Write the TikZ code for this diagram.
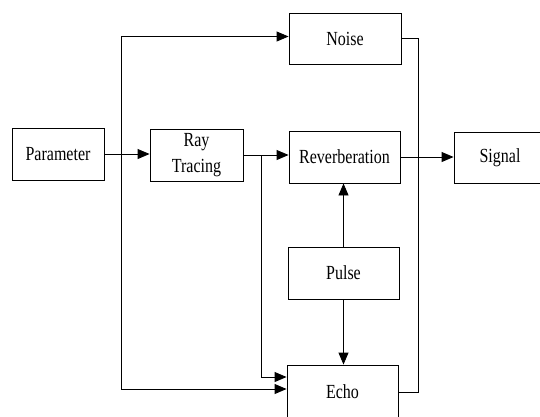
\documentclass[tikz,border=0pt]{standalone}
\usepackage{fontspec}
\setmainfont{Liberation Serif}
\newfontfamily\tnrfont{Liberation Serif}
\usepackage{graphicx}
\usetikzlibrary{arrows.meta}
\newcommand\tx[1]{\scalebox{1}[1.25]{#1}}
\tikzset{
  blk/.style={draw, line width=0.9pt, inner sep=0pt, align=center,
    font=\tnrfont\fontsize{16}{26}\selectfont},
  arr/.style={line width=0.9pt, -{Triangle[length=12pt,width=10pt]}},
  ln/.style={line width=0.9pt}
}
\begin{document}
\begin{tikzpicture}[x=1pt,y=-1pt]
\useasboundingbox (0,0) rectangle (540,416);
\node[blk, minimum width=92pt, minimum height=52pt] (par) at (58,154) {\tx{Parameter}};
\node[blk, minimum width=93pt, minimum height=52pt] (ray) at (196.5,155) {\tx{Ray}\\\tx{Tracing}};
\node[blk, minimum width=111pt, minimum height=52pt] (rev) at (344.5,157) {\tx{Reverberation}};
\node[blk, minimum width=92pt, minimum height=51pt] (sig) at (500,157.5) {\tx{Signal}};
\node[blk, minimum width=112pt, minimum height=51pt] (noi) at (345,38.5) {\tx{Noise}};
\node[blk, minimum width=111pt, minimum height=52pt] (pul) at (343.5,273) {\tx{Pulse}};
\node[blk, minimum width=111pt, minimum height=54pt] (ech) at (342.5,392) {\tx{Echo}};
\coordinate (b1) at (121,154);
\coordinate (b2) at (261,155);
\draw[arr] (par.east) -- (par.east -| ray.west);
\draw[arr] (b1) |- ([yshift=2pt]noi.west);
\draw[arr] (b1) |- ([yshift=3pt]ech.west);
\draw[arr] (ray.east) -- (ray.east -| rev.west);
\draw[arr] (b2) |- ([yshift=15pt]ech.west);
\draw[arr] (rev.east) -- (rev.east -| sig.west);
\draw[ln] (noi.east) -- ++(17,0) |- (ech.east);
\draw[arr] (pul.north) -- (pul.north |- rev.south);
\draw[arr] (pul.south) -- (pul.south |- ech.north);
\end{tikzpicture}
\end{document}
